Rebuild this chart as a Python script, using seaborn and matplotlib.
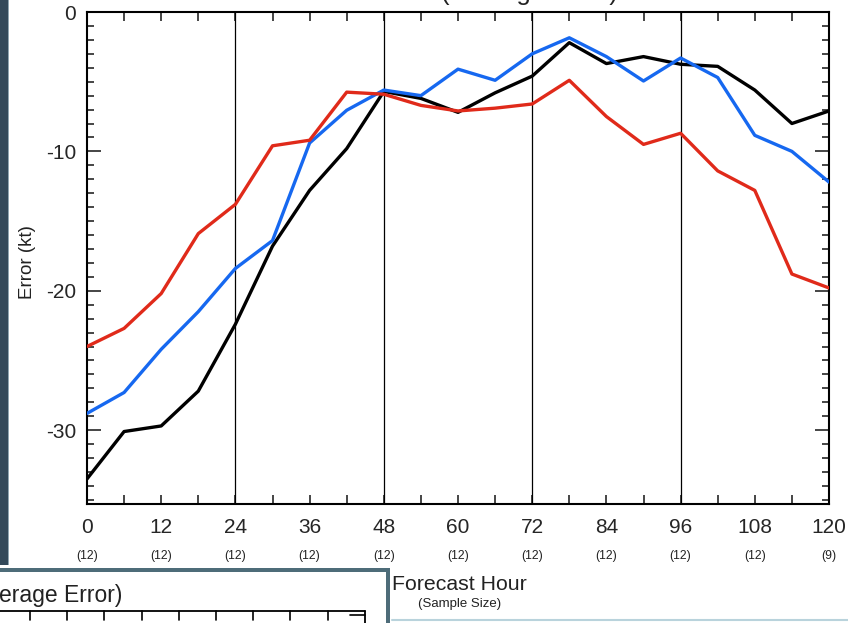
import matplotlib
matplotlib.use("Agg")
import matplotlib.pyplot as plt
import matplotlib.transforms as mtransforms
from matplotlib.patches import Rectangle
from matplotlib.lines import Line2D
import numpy as np
import pandas as pd
import seaborn as sns

# ---------------- data ----------------
hours = list(range(0, 121, 6))
black_err = [-33.5, -30.1, -29.7, -27.2, -22.4, -16.8, -12.8, -9.8, -5.7, -6.2, -7.2,
             -5.8, -4.6, -2.2, -3.7, -3.2, -3.75, -3.9, -5.6, -8.0, -7.1]
blue_err = [-28.8, -27.3, -24.2, -21.5, -18.4, -16.4, -9.4, -7.05, -5.6, -6.0, -4.1,
            -4.9, -3.0, -1.85, -3.2, -4.95, -3.3, -4.7, -8.85, -10.0, -12.2]
red_err = [-24.0, -22.7, -20.2, -15.9, -13.8, -9.6, -9.2, -5.75, -5.9, -6.7, -7.1,
           -6.9, -6.6, -4.9, -7.5, -9.5, -8.7, -11.4, -12.8, -18.8, -19.8]
label_hours = list(range(0, 121, 12))
sample_sizes = [12, 12, 12, 12, 12, 12, 12, 12, 12, 12, 9]
guide_hours = [24, 48, 72, 96]
series_names = ["black", "blue", "red"]
series_colors = {"black": "#000000", "blue": "#1668f0", "red": "#e02a1a"}

df = pd.DataFrame({
    "hour": hours * 3,
    "error": black_err + blue_err + red_err,
    "series": ["black"] * len(hours) + ["blue"] * len(hours) + ["red"] * len(hours),
})

# ---------------- figure ----------------
sns.set_style("white")
plt.rcParams["font.family"] = ["Liberation Sans", "DejaVu Sans"]

W, H = 848, 623
fig = plt.figure(figsize=(W / 100, H / 100), dpi=100)
fig.patch.set_facecolor("white")

def fx(px):
    return px / W

def fy(py):
    return 1 - py / H

ax_left, ax_right, ax_top, ax_bot = 87, 829, 12, 504
ax = fig.add_axes([fx(ax_left), fy(ax_bot), fx(ax_right - ax_left), (ax_bot - ax_top) / H])

for g in guide_hours:
    ax.axvline(g, color="black", lw=0.9, zorder=1)

sns.lineplot(data=df, x="hour", y="error", hue="series", hue_order=series_names,
             palette=series_colors, linewidth=2.4, legend=False, ax=ax, zorder=3)

ax.set_xlim(0, 120)
ax.set_ylim(-35.3, 0)
ax.set_xlabel("")
ax.set_ylabel("")

ax.set_xticks(label_hours)
ax.set_xticklabels([str(h) for h in label_hours])
ax.set_xticks(hours, minor=True)
ax.set_yticks([0, -10, -20, -30])
ax.set_yticklabels(["0", "-10", "-20", "-30"])
ax.set_yticks(np.arange(-35, 0.5, 1), minor=True)

ax.tick_params(axis="x", which="both", direction="in", length=6.5, width=1.2,
               top=True, bottom=True, labelsize=15, pad=10)
ax.tick_params(axis="y", which="major", direction="in", length=10, width=1.2,
               left=True, right=True, labelsize=15, pad=8)
ax.tick_params(axis="y", which="minor", direction="in", length=5, width=1.2,
               left=True, right=True)
for s in ax.spines.values():
    s.set_linewidth(1.5)
    s.set_color("black")

# sample sizes under tick labels
trans = mtransforms.blended_transform_factory(ax.transData, fig.transFigure)
for h, n in zip(label_hours, sample_sizes):
    ax.text(h, fy(556), f"({n})", transform=trans, ha="center", va="center",
            fontsize=8.8, color="#222222", clip_on=False)

# axis titles
fig.text(fx(27), fy(262), "Error (kt)", rotation=90, ha="center", va="center",
         fontsize=13.5, color="#222222")
fig.text(fx(392), fy(584), "Forecast Hour", ha="left", va="center",
         fontsize=15.3, color="#222222")
fig.text(fx(418), fy(604), "(Sample Size)", ha="left", va="center",
         fontsize=9.5, color="#222222")

# title cut off at the top edge (as in the reference screenshot)
fig.text(fx(441), fy(0), "(Average Error)", ha="left", va="baseline",
         fontsize=18.5, color="#222222")

# ---------------- screenshot decorations ----------------
# left dark frame
fig.patches.append(Rectangle((0, fy(565)), fx(8), 1 - fy(565), transform=fig.transFigure,
                             facecolor="#33495a", edgecolor="none", zorder=5))
fig.patches.append(Rectangle((fx(8), fy(565)), fx(1.2), 1 - fy(565), transform=fig.transFigure,
                             facecolor="#8fa6b2", edgecolor="none", zorder=5))

# overlapping window at bottom-left
fig.patches.append(Rectangle((0, 0), fx(390), fy(568), transform=fig.transFigure,
                             facecolor="#4e6c79", edgecolor="none", zorder=6))
fig.patches.append(Rectangle((0, 0), fx(386), fy(572), transform=fig.transFigure,
                             facecolor="white", edgecolor="none", zorder=7))
fig.text(fx(-1), fy(602), "erage Error)", ha="left", va="baseline",
         fontsize=16.5, color="#222222", zorder=8)
fig.lines.append(Line2D([0, fx(365)], [fy(611), fy(611)], transform=fig.transFigure,
                        color="black", lw=1.3, zorder=8))
for px in [30, 67, 104, 142, 179, 216, 253, 290, 328]:
    fig.lines.append(Line2D([fx(px), fx(px)], [fy(611), fy(620)], transform=fig.transFigure,
                            color="black", lw=1.2, zorder=8))
fig.lines.append(Line2D([fx(365), fx(365)], [fy(611), 0], transform=fig.transFigure,
                        color="black", lw=1.3, zorder=8))
fig.lines.append(Line2D([fx(350), fx(365)], [fy(615), fy(615)], transform=fig.transFigure,
                        color="black", lw=1.2, zorder=8))

# light line at bottom right
fig.lines.append(Line2D([fx(392), 1], [fy(620), fy(620)], transform=fig.transFigure,
                        color="#b9d3dc", lw=1.5, zorder=8))

fig.savefig("out.png", dpi=100, facecolor="white")
